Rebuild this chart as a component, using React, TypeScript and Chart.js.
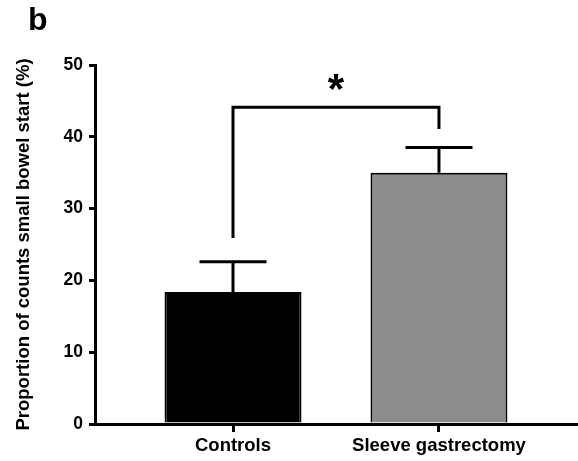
import React, { useEffect, useRef } from 'react';
import { Chart, registerables } from 'chart.js';

Chart.register(...registerables);

// ---- data ----
const categories = ['Controls', 'Sleeve gastrectomy'];
const means = [18.4, 35.0];
const errors = [4.2, 3.5];
const barColors = ['#000000', '#8c8c8c'];
const yTickValues = [0, 10, 20, 30, 40, 50];
const yAxisTitle = 'Proportion of counts small bowel start (%)';
const panelLabel = 'b';
// significance bracket: category indexes, bar-level, leg end values
const bracketIndexes = [0, 1];
const bracketLevel = 44.1;
const bracketLegEnds = [25.9, 41.1];
const significanceText = '*';
const significanceLevel = 47.7;

const FONT = '"Liberation Sans", Arial, Helvetica, sans-serif';

const annotations = {
  id: 'annotations',
  afterDatasetsDraw(chart: any) {
    const ctx = chart.ctx;
    const xs = chart.scales.x;
    const ys = chart.scales.y;
    ctx.save();
    ctx.strokeStyle = '#000';
    ctx.lineWidth = 3;
    ctx.lineCap = 'butt';
    // error bars (upper only)
    means.forEach((m, i) => {
      const x = xs.getPixelForValue(i);
      const yb = ys.getPixelForValue(m);
      const yt = ys.getPixelForValue(m + errors[i]);
      const half = 33.5;
      ctx.beginPath();
      ctx.moveTo(x, yb);
      ctx.lineTo(x, yt);
      ctx.moveTo(x - half, yt);
      ctx.lineTo(x + half, yt);
      ctx.stroke();
    });
    // bracket
    const x1 = xs.getPixelForValue(bracketIndexes[0]);
    const x2 = xs.getPixelForValue(bracketIndexes[1]);
    const yl = ys.getPixelForValue(bracketLevel);
    ctx.beginPath();
    ctx.moveTo(x1, ys.getPixelForValue(bracketLegEnds[0]));
    ctx.lineTo(x1, yl);
    ctx.lineTo(x2, yl);
    ctx.lineTo(x2, ys.getPixelForValue(bracketLegEnds[1]));
    ctx.stroke();
    // star
    ctx.fillStyle = '#000';
    ctx.font = `bold 42px ${FONT}`;
    ctx.textAlign = 'center';
    ctx.textBaseline = 'alphabetic';
    const mt = ctx.measureText(significanceText);
    const cy = ys.getPixelForValue(significanceLevel);
    const base = cy + (mt.actualBoundingBoxAscent - mt.actualBoundingBoxDescent) / 2;
    ctx.fillText(significanceText, (x1 + x2) / 2, base);
    // panel label
    ctx.font = `bold 32px ${FONT}`;
    ctx.textAlign = 'left';
    ctx.fillText(panelLabel, 28, 30);
    ctx.restore();
  },
};

export default function App() {
  const ref = useRef<HTMLCanvasElement | null>(null);
  useEffect(() => {
    if (!ref.current) return;
    const chart = new Chart(ref.current, {
      type: 'bar',
      data: {
        datasets: [
          {
            data: means.map((m, i) => ({ x: i, y: m })),
            backgroundColor: barColors,
            borderColor: '#000',
            borderWidth: 2,
            borderSkipped: 'start',
            barPercentage: 0.665,
            categoryPercentage: 1,
          },
        ],
      },
      options: {
        responsive: false,
        animation: false,
        events: [],
        layout: { padding: { top: 65, left: 0, right: 0, bottom: 0 } },
        plugins: { legend: { display: false }, tooltip: { enabled: false }, title: { display: false } },
        scales: {
          x: {
            type: 'linear',
            offset: false,
            min: -0.67,
            max: 1.675,
            afterBuildTicks: (scale: any) => {
              scale.ticks = categories.map((_, i) => ({ value: i }));
            },
            afterFit: (scale: any) => {
              scale.height = 37;
            },
            border: { display: true, color: '#000', width: 3 },
            grid: { offset: false, drawOnChartArea: false, drawTicks: true, tickLength: 8, tickColor: '#000', tickWidth: 3, color: '#000', lineWidth: 3 },
            ticks: {
              autoSkip: false,
              maxRotation: 0,
              padding: 3,
              color: '#000',
              font: { family: FONT, size: 18.5, weight: 'bold' },
              callback: (v: any) => categories[v as number] ?? '',
            },
          },
          y: {
            type: 'linear',
            min: 0,
            max: 50,
            afterBuildTicks: (scale: any) => {
              scale.ticks = yTickValues.map((v) => ({ value: v }));
            },
            afterFit: (scale: any) => {
              scale.width = 95;
            },
            border: { display: true, color: '#000', width: 3 },
            grid: { drawOnChartArea: false, drawTicks: true, tickLength: 6, tickColor: '#000', tickWidth: 3, color: '#000', lineWidth: 3 },
            ticks: {
              padding: 6,
              color: '#000',
              font: { family: FONT, size: 17.5, weight: 'bold' },
            },
            title: {
              display: true,
              text: yAxisTitle,
              color: '#000',
              font: { family: FONT, size: 18.5, weight: 'bold' },
              padding: { top: 13, bottom: 0 },
            },
          },
        },
      },
      plugins: [annotations],
    } as any);
    return () => chart.destroy();
  }, []);
  return (
    <div style={{ position: 'fixed', left: 0, top: 0, width: 578, height: 461, background: '#fff' }}>
      <canvas ref={ref} width={578} height={461} style={{ width: 578, height: 461 }} />
    </div>
  );
}
